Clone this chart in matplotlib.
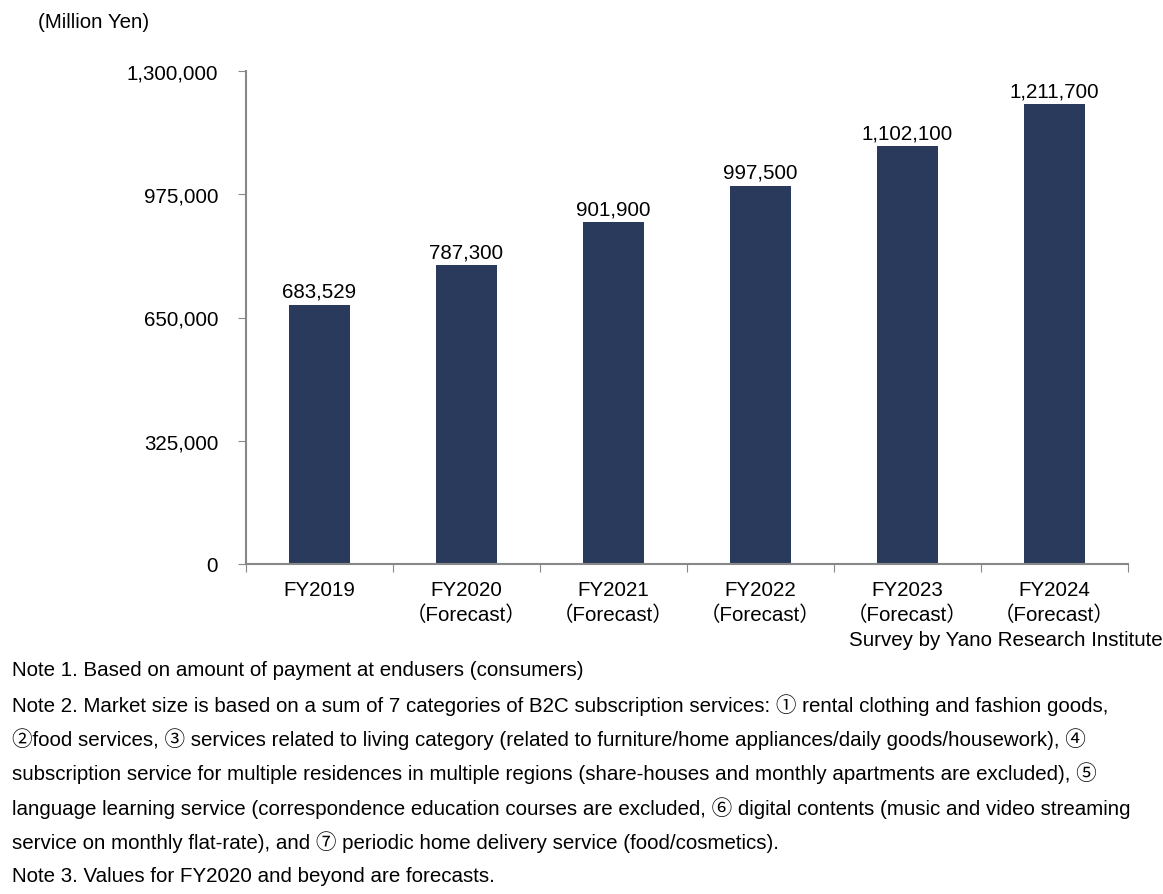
import matplotlib.pyplot as plt
from matplotlib.ticker import FuncFormatter

years = ["FY2019", "FY2020", "FY2021", "FY2022", "FY2023", "FY2024"]
sub_labels = ["", "（Forecast）", "（Forecast）", "（Forecast）", "（Forecast）", "（Forecast）"]
market_size = [683529, 787300, 901900, 997500, 1102100, 1211700]
y_ticks = [0, 325000, 650000, 975000, 1300000]

notes = [
    "Note 1. Based on amount of payment at endusers (consumers)",
    "Note 2. Market size is based on a sum of 7 categories of B2C subscription services: ① rental clothing and fashion goods,",
    "②food services, ③ services related to living category (related to furniture/home appliances/daily goods/housework), ④",
    "subscription service for multiple residences in multiple regions (share-houses and monthly apartments are excluded), ⑤",
    "language learning service (correspondence education courses are excluded, ⑥ digital contents (music and video streaming",
    "service on monthly flat-rate), and ⑦ periodic home delivery service (food/cosmetics).",
    "Note 3. Values for FY2020 and beyond are forecasts.",
]

plt.rcParams["font.family"] = ["Liberation Sans", "Noto Sans CJK JP", "DejaVu Sans"]
fs = 14.8

fig = plt.figure(figsize=(11.63, 8.95), dpi=100)
ax = fig.add_axes([246 / 1163, 1 - 565 / 895, (1128 - 246) / 1163, (565 - 72) / 895])

x = list(range(len(years)))
bar_color = "#2a3a5d"
ax.bar(x, market_size, width=0.41, color=bar_color)

for xi, v in zip(x, market_size):
    ax.text(xi, v + 10000, f"{v:,}", ha="center", va="bottom", fontsize=fs)

ax.set_xlim(-0.5, len(years) - 0.5)
ax.set_ylim(0, 1300000)
ax.set_yticks(y_ticks)
ax.yaxis.set_major_formatter(FuncFormatter(lambda v, p: f"{int(v):,}"))

# ticks between categories on x axis
ax.set_xticks([i - 0.5 for i in range(len(years) + 1)])
ax.set_xticklabels([])
ax.tick_params(axis="x", length=6, color="#888888", direction="out")
ax.tick_params(axis="y", length=6, color="#888888", direction="out", labelsize=fs, pad=14)

for i, (yr, sl) in enumerate(zip(years, sub_labels)):
    label = yr if not sl else yr + "\n" + sl
    ax.text(i, -0.032, label, transform=ax.get_xaxis_transform(), ha="center", va="top",
            fontsize=fs, linespacing=1.35)

for s in ["top", "right"]:
    ax.spines[s].set_visible(False)
for s in ["left", "bottom"]:
    ax.spines[s].set_color("#888888")
    ax.spines[s].set_linewidth(1.5)

fig.text(38 / 1163, 1 - 22 / 895, "(Million Yen)", ha="left", va="center", fontsize=fs)
fig.text(1163 / 1163, 1 - 641 / 895, "Survey by Yano Research Institute", ha="right", va="center", fontsize=fs)

for i, line in enumerate(notes):
    fig.text(12 / 1163, 1 - (671 + i * 34.2) / 895, line, ha="left", va="center", fontsize=fs)

fig.savefig("out.png", dpi=100)
